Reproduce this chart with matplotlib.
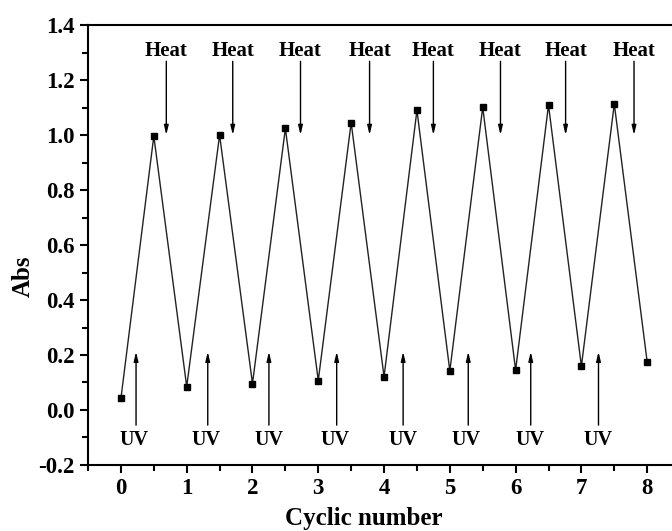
import matplotlib
matplotlib.use("Agg")
import matplotlib.pyplot as plt
from matplotlib.ticker import MultipleLocator

plt.rcParams["font.family"] = ["Liberation Serif", "DejaVu Serif"]
plt.rcParams["font.weight"] = "bold"

# cycle index (half steps: UV -> Heat -> UV ...)
cycle = [0, 0.5, 1, 1.5, 2, 2.5, 3, 3.5, 4, 4.5, 5, 5.5, 6, 6.5, 7, 7.5, 8]
absorbance = [0.042, 0.996, 0.085, 1.000, 0.096, 1.024, 0.107, 1.045, 0.121,
              1.090, 0.142, 1.101, 0.145, 1.109, 0.159, 1.113, 0.175]

# annotation arrows
heat_x = [0.69, 1.70, 2.73, 3.78, 4.75, 5.77, 6.76, 7.80]
uv_x = [0.23, 1.32, 2.25, 3.28, 4.29, 5.28, 6.23, 7.26]
uv_text_x = [0.20, 1.29, 2.25, 3.25, 4.29, 5.25, 6.22, 7.25]

fig = plt.figure(figsize=(6.72, 5.31), dpi=100)
# axes runs a little past the right edge, like the cropped original
ax = fig.add_axes([0.131, 0.1243, 0.881, 0.8286])

ax.plot(cycle, absorbance, color="#222222", lw=1.0, zorder=2)
ax.plot(cycle, absorbance, ls="none", marker="s", ms=5, color="black", zorder=3)

arrow = dict(arrowstyle="-|>,head_length=0.55,head_width=0.13", color="black", lw=1.0,
             shrinkA=0, shrinkB=0)
for x in heat_x:
    ax.annotate("", xy=(x, 1.0), xytext=(x, 1.268), arrowprops=arrow)
    ax.text(x, 1.305, "Heat", ha="center", va="center", fontsize=15, fontweight="bold")
for x, tx in zip(uv_x, uv_text_x):
    ax.annotate("", xy=(x, 0.212), xytext=(x, -0.055), arrowprops=arrow)
    ax.text(tx, -0.11, "UV", ha="center", va="center", fontsize=14.5, fontweight="bold")

ax.set_xlim(-0.5, 8.5)
ax.set_ylim(-0.2, 1.4)
ax.xaxis.set_major_locator(MultipleLocator(1))
ax.xaxis.set_minor_locator(MultipleLocator(0.5))
ax.yaxis.set_major_locator(MultipleLocator(0.2))
ax.yaxis.set_minor_locator(MultipleLocator(0.1))
ax.yaxis.set_major_formatter(plt.FuncFormatter(lambda v, p: "%.1f" % v))
ax.tick_params(which="major", direction="out", length=6, width=1.5, labelsize=16.5)
ax.tick_params(which="minor", direction="out", length=4, width=1.5)
ax.tick_params(top=False, right=False)
for s in ax.spines.values():
    s.set_linewidth(1.5)

ax.set_xlabel("Cyclic number", fontsize=18, fontweight="bold")
ax.set_ylabel("Abs", fontsize=18, fontweight="bold")
ax.xaxis.set_label_coords(0.465, -0.095)
ax.yaxis.set_label_coords(-0.09, 0.43)

fig.savefig("out.png", dpi=100)
